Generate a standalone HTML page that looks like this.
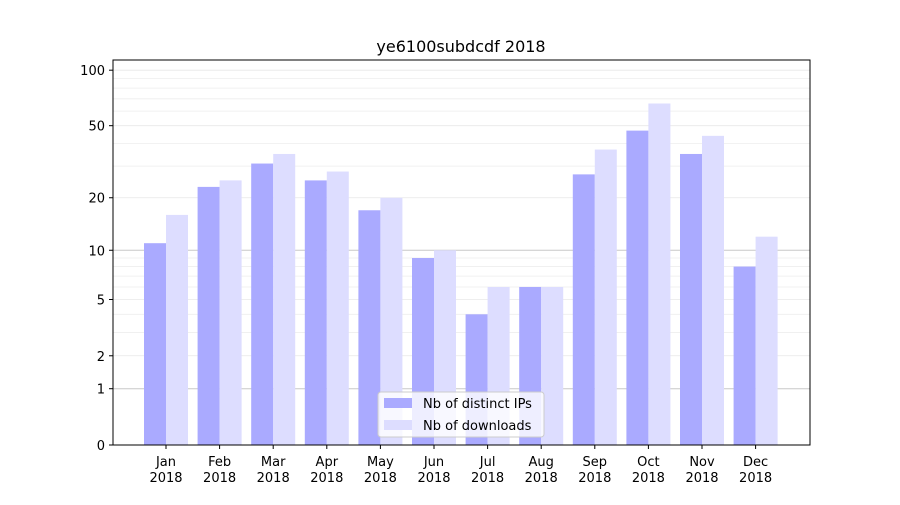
<!DOCTYPE html>
<html><head><meta charset="utf-8"><style>
body{margin:0;background:#fff;font-family:"Liberation Sans","DejaVu Sans",sans-serif}
svg text{font-family:"DejaVu Sans","Liberation Sans",sans-serif;font-size:13px;fill:#000}
</style></head><body>
<svg id="chart" width="900" height="500"></svg>
<script>
const months=["Jan","Feb","Mar","Apr","May","Jun","Jul","Aug","Sep","Oct","Nov","Dec"];
const ips=[11,23,31,25,17,9,4,6,27,47,35,8];
const downloads=[16,25,35,28,20,10,6,6,37,66,44,12];
const yTicks=[0,1,2,5,10,20,50,100];
const yMinor=[3,4,6,7,8,9,30,40,60,70,80,90];
const NS="http://www.w3.org/2000/svg";
const svg=document.getElementById('chart');
const L=113,R=810,T=60,B=445;
const y=v=>B-187*Math.log10(v+1);
const step=53.6,x0=166;
const xc=i=>x0+i*step;
function el(t,a,p){const e=document.createElementNS(NS,t);for(const k in a)e.setAttribute(k,a[k]);(p||svg).appendChild(e);return e;}
const g=el('g',{});


yMinor.forEach(v=>{const l=el('line',{x1:L,x2:R,y1:y(v),y2:y(v),stroke:'#eee','stroke-width':0.8},g);

});
yTicks.forEach(v=>{const strong=(v===1||v===10);const l=el('line',{x1:L,x2:R,y1:y(v),y2:y(v),stroke:strong?'#c8c8c8':'#e8e8e8','stroke-width':strong?1:0.8},g);

});
months.forEach((m,i)=>{
const c=xc(i);
const b1=el('rect',{x:c-22,y:y(ips[i]),width:22,height:B-y(ips[i]),fill:'#aaaaff'});


const b2=el('rect',{x:c,y:y(downloads[i]),width:22,height:B-y(downloads[i]),fill:'#ddddff'});


el('line',{x1:c,x2:c,y1:B,y2:B+4,stroke:'#000'});
const t=el('text',{x:c,y:B+21,'text-anchor':'middle'});t.textContent=m;


const t2=el('text',{x:c,y:B+37,'text-anchor':'middle'});t2.textContent='2018';


});
yTicks.forEach(v=>{el('line',{x1:L-4,x2:L,y1:y(v),y2:y(v),stroke:'#000'});
const t=el('text',{x:L-8,y:y(v)+5,'text-anchor':'end'});t.textContent=v;

});
const fr=el('rect',{x:L,y:T,width:R-L,height:B-T,fill:'none',stroke:'#000','stroke-width':1});


const ti=el('text',{x:461,y:52,'text-anchor':'middle',style:'font-size:16px'});ti.textContent='ye6100subdcdf 2018';


const lg=el('g',{});


el('rect',{x:378,y:392,width:166,height:45,rx:3,fill:'rgba(255,255,255,0.8)',stroke:'#ccc'},lg);
el('rect',{x:384,y:398,width:28,height:10,fill:'#aaaaff'},lg);
el('rect',{x:384,y:420,width:28,height:10,fill:'#ddddff'},lg);
const l1=el('text',{x:423,y:408},lg);l1.textContent='Nb of distinct IPs';


const l2=el('text',{x:423,y:430},lg);l2.textContent='Nb of downloads';


</script>
</body></html>
